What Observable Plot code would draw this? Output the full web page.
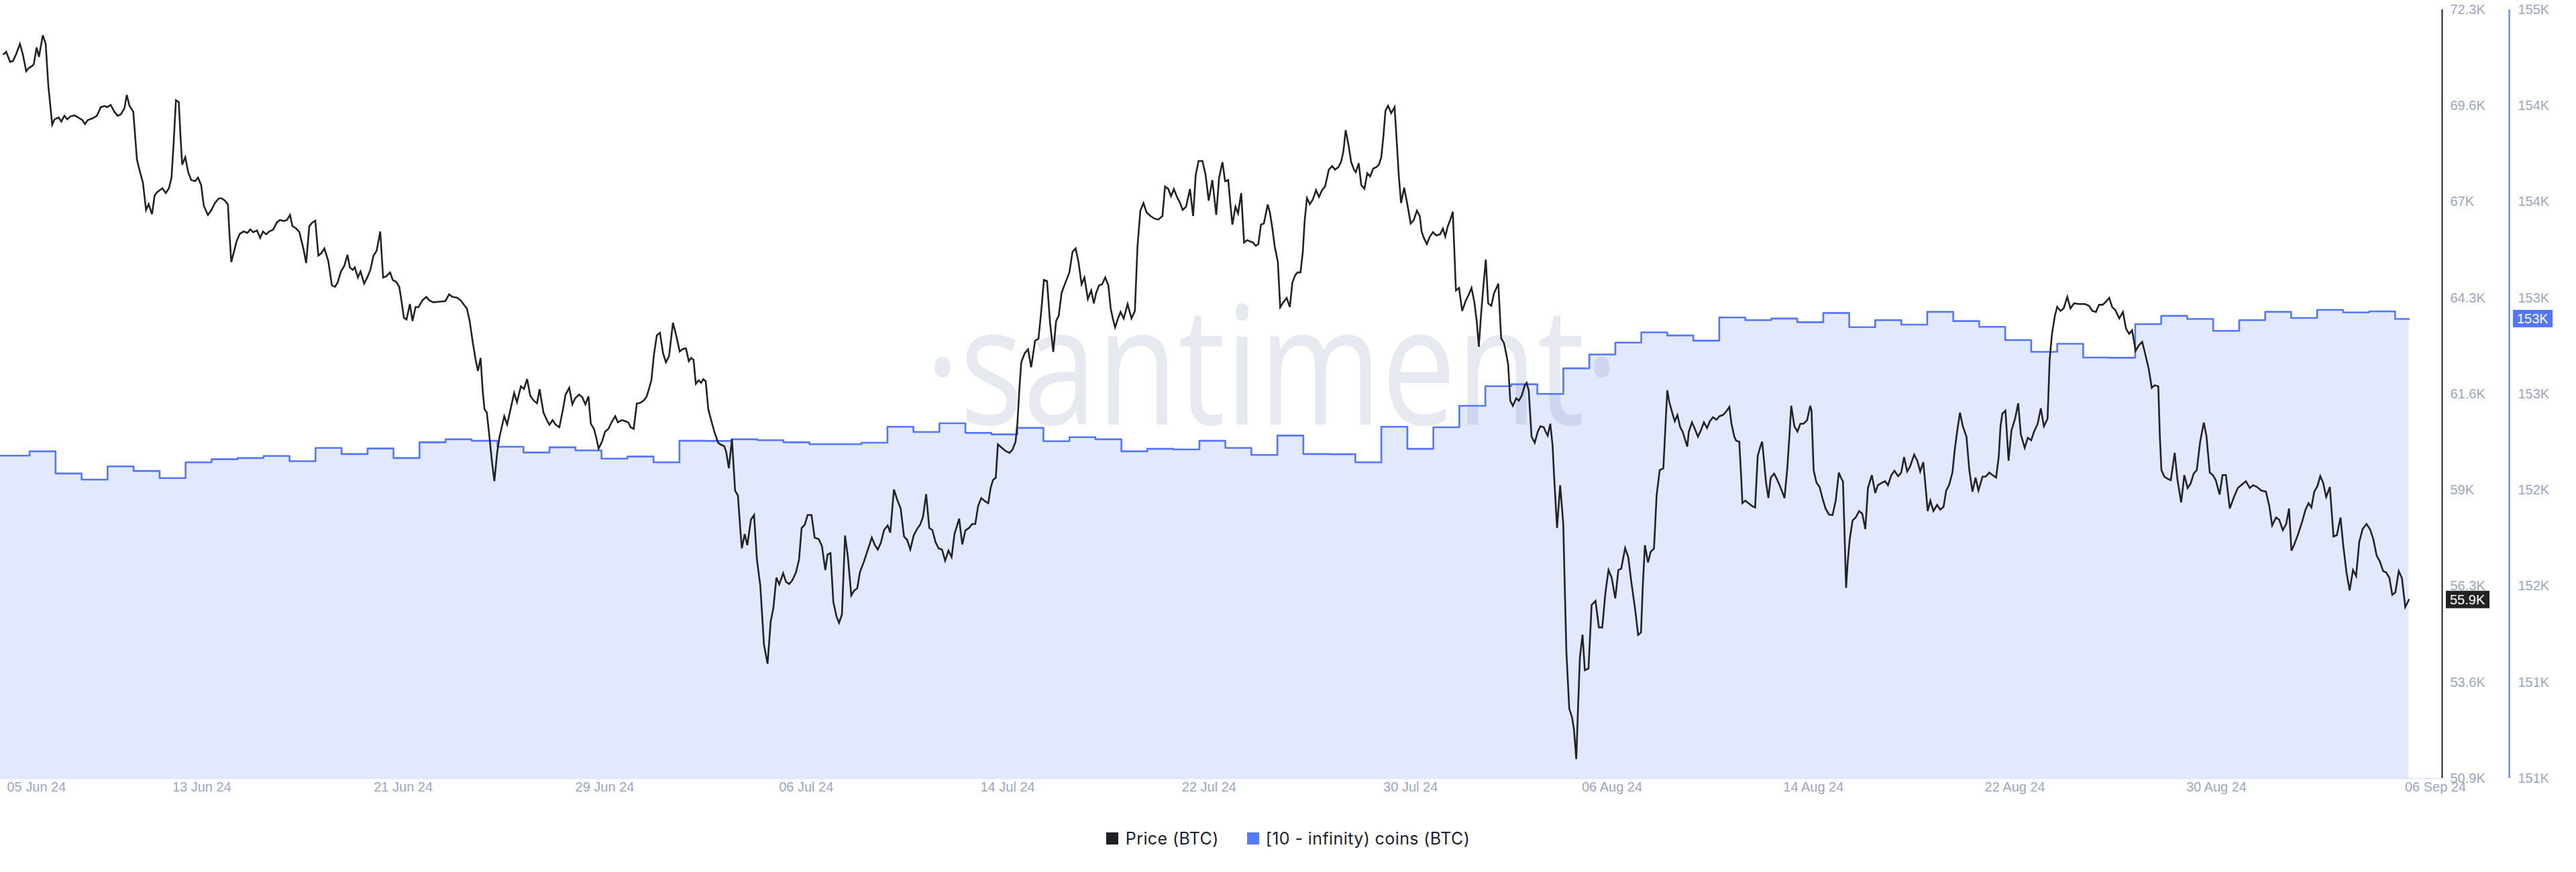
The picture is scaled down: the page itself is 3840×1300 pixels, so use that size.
<!DOCTYPE html>
<html>
<head>
<meta charset="utf-8">
<script src="https://cdn.jsdelivr.net/npm/d3@7"></script>
<script src="https://cdn.jsdelivr.net/npm/@observablehq/plot@0.6"></script>
<style>
  html, body { margin: 0; padding: 0; background: #ffffff; }
  #chart { width: 3840px; }
  .legend { height: 100px; width: 3840px; display: flex; align-items: center; justify-content: center;
            font-family: Inter, "Noto Sans", sans-serif; font-size: 25px; color: #1b1f2e; letter-spacing: 0.4px; }
  .legend .item { display: flex; align-items: center; }
  .legend .sw { width: 18px; height: 18px; display: inline-block; }
</style>
</head>
<body>
<div id="chart"></div>
<div class="legend">
  <span class="item"><span class="sw" style="background:#1f2023;margin-right:11px"></span>Price (BTC)</span>
  <span class="item" style="margin-left:42px"><span class="sw" style="background:#5779fb;margin-right:10px"></span>[10 - infinity) coins (BTC)</span>
</div>
<script>
// ---------- DATA ----------
// time is expressed in days since 05 Jun 2024 00:00 UTC
const START_UTC = Date.UTC(2024, 5, 5);
const DAY_MS = 864e5;

// BTC price: [day, price in thousand USD]
const priceSeries = [
[1.00,71.08],[1.10,71.15],[1.25,70.87],[1.36,70.89],[1.48,71.08],[1.63,71.37],[1.74,71.08],[1.87,70.61],[1.97,70.70],[2.09,70.75],[2.16,70.80],[2.27,71.27],[2.36,71.01],[2.51,71.61],[2.62,71.37],[2.72,70.22],[2.87,69.12],[2.96,69.27],[3.12,69.32],[3.22,69.21],[3.34,69.37],[3.45,69.27],[3.57,69.35],[3.72,69.38],[3.87,69.32],[4.03,69.25],[4.13,69.14],[4.24,69.25],[4.43,69.30],[4.59,69.37],[4.74,69.61],[4.89,69.64],[4.99,69.61],[5.12,69.67],[5.27,69.47],[5.39,69.37],[5.51,69.41],[5.65,69.58],[5.74,69.95],[5.84,69.65],[5.99,69.48],[6.13,68.15],[6.25,67.80],[6.36,67.51],[6.48,66.75],[6.58,66.91],[6.71,66.63],[6.81,67.15],[6.90,67.24],[7.01,67.30],[7.11,67.35],[7.24,67.22],[7.36,67.35],[7.46,67.65],[7.54,68.58],[7.63,69.80],[7.74,69.75],[7.80,68.87],[7.87,68.01],[7.99,68.22],[8.10,67.80],[8.22,67.58],[8.37,67.55],[8.48,67.65],[8.60,67.44],[8.70,66.87],[8.86,66.61],[8.98,66.73],[9.13,66.94],[9.28,67.07],[9.39,67.07],[9.51,67.01],[9.63,66.90],[9.69,66.08],[9.76,65.30],[9.86,65.58],[9.96,65.87],[10.08,66.08],[10.23,66.15],[10.38,66.11],[10.49,66.21],[10.60,66.13],[10.75,66.18],[10.87,65.97],[10.98,66.15],[11.10,66.07],[11.22,66.15],[11.37,66.20],[11.51,66.40],[11.63,66.47],[11.78,66.44],[11.90,66.47],[12.02,66.61],[12.11,66.30],[12.26,66.23],[12.38,66.13],[12.54,65.65],[12.64,65.27],[12.76,66.30],[12.88,66.40],[12.99,66.45],[13.11,65.48],[13.22,65.54],[13.34,65.68],[13.49,65.33],[13.63,64.65],[13.75,64.61],[13.85,64.73],[13.98,65.04],[14.10,65.18],[14.23,65.50],[14.32,65.15],[14.43,65.08],[14.51,65.15],[14.63,64.87],[14.73,65.04],[14.87,64.70],[14.99,64.87],[15.11,65.08],[15.23,65.48],[15.35,65.61],[15.49,66.15],[15.60,64.87],[15.72,64.90],[15.87,65.01],[15.97,64.80],[16.10,64.75],[16.22,64.61],[16.29,64.30],[16.40,63.75],[16.50,63.70],[16.63,64.13],[16.73,63.66],[16.85,64.05],[16.96,64.04],[17.11,64.23],[17.26,64.33],[17.38,64.23],[17.53,64.18],[17.84,64.20],[17.99,64.21],[18.14,64.40],[18.26,64.33],[18.44,64.31],[18.59,64.23],[18.75,64.07],[18.82,64.01],[18.93,63.66],[19.05,63.06],[19.16,62.58],[19.25,62.27],[19.35,62.63],[19.43,61.73],[19.50,61.20],[19.59,61.11],[19.70,60.37],[19.79,59.73],[19.88,59.20],[19.99,60.01],[20.08,60.44],[20.26,61.01],[20.37,60.78],[20.49,61.16],[20.64,61.66],[20.75,61.40],[20.90,61.84],[21.02,61.77],[21.14,62.04],[21.26,61.58],[21.40,61.44],[21.52,61.37],[21.62,61.76],[21.77,61.11],[21.90,60.90],[22.00,60.77],[22.12,60.90],[22.23,60.78],[22.38,60.70],[22.50,61.13],[22.62,61.61],[22.76,61.80],[22.88,61.34],[22.99,61.51],[23.14,61.61],[23.26,61.54],[23.38,61.34],[23.50,61.56],[23.59,60.80],[23.71,60.66],[23.80,60.41],[23.89,60.11],[24.02,60.30],[24.14,60.58],[24.27,60.66],[24.39,60.84],[24.53,61.01],
[24.63,60.84],[24.78,60.90],[24.93,60.87],[25.04,60.83],[25.12,60.70],[25.24,60.66],[25.36,61.36],[25.49,61.38],[25.62,61.44],[25.74,61.56],[25.84,61.80],[25.92,62.01],[26.02,62.73],[26.13,63.26],[26.25,63.33],[26.37,62.76],[26.48,62.51],[26.60,62.68],[26.75,63.61],[26.87,63.27],[27.01,62.81],[27.13,62.88],[27.25,62.90],[27.36,62.54],[27.45,62.63],[27.54,62.58],[27.63,61.91],[27.74,62.01],[27.83,61.94],[27.92,62.04],[28.01,61.98],[28.11,61.20],[28.22,60.90],[28.34,60.58],[28.49,60.27],[28.61,60.21],[28.72,60.18],[28.80,60.01],[28.90,59.56],[29.02,60.37],[29.14,58.94],[29.25,58.80],[29.34,57.87],[29.40,57.33],[29.51,57.73],[29.61,57.42],[29.75,58.13],[29.87,58.26],[29.98,57.02],[30.11,56.30],[30.25,54.66],[30.39,54.12],[30.51,55.30],[30.61,55.66],[30.73,56.52],[30.84,56.33],[30.99,56.64],[31.10,56.40],[31.22,56.34],[31.34,56.44],[31.48,56.66],[31.60,57.02],[31.70,57.90],[31.82,57.99],[31.93,58.26],[32.08,58.26],[32.20,57.63],[32.36,57.59],[32.48,57.40],[32.61,56.73],[32.70,57.16],[32.81,57.20],[32.92,55.84],[33.04,55.44],[33.14,55.26],[33.25,55.49],[33.37,57.69],[33.48,57.09],[33.61,56.02],[33.72,56.16],[33.84,56.22],[33.94,56.66],[34.10,56.97],[34.25,57.30],[34.40,57.63],[34.52,57.42],[34.63,57.30],[34.75,57.49],[34.87,57.84],[35.01,57.97],[35.11,57.77],[35.25,58.97],[35.37,58.70],[35.51,58.44],[35.64,57.66],[35.76,57.57],[35.88,57.30],[36.01,57.69],[36.14,57.87],[36.26,57.99],[36.37,58.21],[36.49,58.84],[36.61,57.90],[36.73,57.84],[36.85,57.51],[36.97,57.33],[37.10,57.30],[37.22,56.99],[37.35,57.27],[37.47,57.09],[37.58,57.73],[37.76,58.16],[37.88,57.44],[38.00,57.83],[38.14,57.90],[38.26,58.01],[38.38,58.01],[38.49,58.51],[38.61,58.73],[38.76,58.64],[38.88,58.59],[38.97,59.01],[39.06,59.23],[39.17,59.30],[39.25,60.23],[39.40,60.13],[39.55,60.04],[39.70,59.99],[39.82,60.09],[39.93,60.30],[40.00,60.80],[40.08,61.80],[40.15,62.51],[40.28,62.76],[40.41,62.87],[40.53,62.37],[40.68,63.11],[40.81,63.16],[40.91,63.87],[41.02,64.80],[41.14,64.77],[41.26,63.58],[41.38,62.80],[41.49,63.66],[41.59,63.80],[41.70,64.44],[41.85,64.73],[42.00,65.01],[42.12,65.58],[42.24,65.68],[42.35,65.30],[42.47,64.68],[42.58,64.87],[42.71,64.27],[42.84,64.51],[42.94,64.15],[43.03,64.44],[43.14,64.65],[43.26,64.68],[43.38,64.87],[43.50,64.65],[43.59,64.01],[43.67,63.73],[43.76,63.48],[43.87,63.73],[43.97,63.91],[44.09,63.73],[44.24,64.13],[44.39,63.73],[44.52,63.94],[44.62,65.73],[44.73,66.73],[44.85,66.94],[44.97,66.68],[45.12,66.58],[45.27,66.51],[45.42,66.48],[45.58,66.58],[45.68,67.40],[45.80,67.34],[45.91,67.13],[46.02,67.33],[46.14,67.11],[46.26,66.94],[46.36,66.75],[46.49,66.84],[46.64,67.33],[46.76,66.58],[46.86,67.72],[46.97,68.11],[47.12,68.11],[47.24,67.72],[47.36,67.01],[47.50,67.58],[47.65,66.61],[47.76,67.65],
[47.89,68.08],[47.99,67.55],[48.11,67.58],[48.19,66.94],[48.27,66.34],[48.39,66.84],[48.49,66.65],[48.61,67.22],[48.72,65.84],[48.84,65.91],[48.96,65.87],[49.07,65.84],[49.17,65.75],[49.27,65.80],[49.37,66.34],[49.48,66.37],[49.63,66.90],[49.72,66.65],[49.81,66.23],[49.90,65.73],[50.02,65.30],[50.11,64.04],[50.23,64.18],[50.36,64.30],[50.48,64.05],[50.58,64.73],[50.69,64.94],[50.78,65.01],[50.89,65.01],[50.98,65.58],[51.05,66.44],[51.14,67.08],[51.25,66.91],[51.37,67.05],[51.49,67.30],[51.60,67.11],[51.72,67.30],[51.84,67.41],[51.98,67.87],[52.11,67.97],[52.22,67.87],[52.35,67.94],[52.45,68.08],[52.54,68.37],[52.63,68.97],[52.75,68.51],[52.84,68.08],[52.95,67.87],[53.02,67.80],[53.13,68.05],[53.23,67.44],[53.35,67.34],[53.46,67.77],[53.57,67.68],[53.69,67.90],[53.81,67.94],[53.91,68.01],[54.00,68.22],[54.08,68.80],[54.16,69.51],[54.26,69.65],[54.38,69.44],[54.51,69.61],[54.60,68.58],[54.67,67.72],[54.76,66.94],[54.88,67.37],[55.01,66.87],[55.13,66.37],[55.25,66.47],[55.37,66.73],[55.48,66.58],[55.55,66.15],[55.63,65.98],[55.75,65.80],[55.87,66.01],[55.99,66.13],[56.11,66.04],[56.26,66.07],[56.37,66.23],[56.46,66.01],[56.56,66.30],[56.67,66.51],[56.75,66.70],[56.87,64.51],[56.99,64.58],[57.11,63.94],[57.25,64.23],[57.37,64.40],[57.47,64.58],[57.58,64.18],[57.67,63.66],[57.75,62.94],[57.84,63.87],[57.93,64.65],[58.02,65.37],[58.11,64.15],[58.23,64.08],[58.34,64.44],[58.43,64.58],[58.50,64.70],[58.61,63.18],[58.72,63.04],[58.81,62.73],[58.88,62.44],[58.96,61.44],[59.06,61.30],[59.19,61.51],[59.29,61.44],[59.40,61.58],[59.52,61.87],[59.59,61.94],[59.67,61.73],[59.78,60.44],[59.90,60.27],[60.02,60.58],[60.12,60.73],[60.25,60.70],[60.32,60.58],[60.40,60.47],[60.50,60.80],[60.59,60.18],[60.65,59.30],[60.76,57.90],[60.88,59.09],[61.00,58.01],[61.06,56.16],[61.12,54.44],[61.23,52.87],[61.34,52.62],[61.41,52.30],[61.50,51.47],[61.56,52.73],[61.64,54.30],[61.74,54.93],[61.83,53.94],[61.97,53.99],[62.09,55.76],[62.24,55.87],[62.37,55.13],[62.50,55.13],[62.62,56.09],[62.74,56.73],[62.86,56.52],[63.00,55.94],[63.12,56.73],[63.23,56.77],[63.38,57.34],[63.50,57.09],[63.61,56.44],[63.76,55.66],[63.88,54.92],[63.99,54.99],[64.06,56.30],[64.14,57.42],[64.26,56.94],[64.36,57.23],[64.49,57.33],[64.59,58.80],[64.71,59.51],[64.85,59.56],[64.92,60.58],[65.00,61.73],[65.08,61.40],[65.20,61.08],[65.29,60.87],[65.39,61.04],[65.50,60.70],[65.59,60.58],[65.68,60.37],[65.77,60.16],[65.83,60.58],[65.95,60.84],[66.06,60.66],[66.18,60.44],[66.29,60.61],[66.41,60.84],[66.53,60.68],[66.64,60.87],[66.76,60.98],[66.89,60.91],[67.01,61.01],[67.14,61.04],[67.26,61.13],[67.39,61.27],[67.47,60.80],[67.58,60.44],[67.65,60.33],[67.77,60.30],[67.85,59.23],[67.89,58.59],[68.00,58.66],[68.12,58.59],[68.26,58.51],[68.38,58.47],[68.48,59.91],[68.58,60.16],[68.65,60.30],[68.71,59.87],[68.80,59.16],[68.89,58.73],[68.98,59.30],[69.11,59.41],[69.21,59.27],[69.32,59.09],[69.44,58.87],[69.51,58.73],[69.62,59.58],[69.71,60.58],[69.77,61.30],[69.89,60.73],[70.01,60.58],[70.12,60.80],[70.24,60.80],[70.38,60.90],[70.50,61.30],
[70.55,61.16],[70.63,59.51],[70.74,59.16],[70.86,59.04],[70.97,58.73],[71.09,58.44],[71.22,58.27],[71.36,58.26],[71.48,58.66],[71.60,59.44],[71.68,59.30],[71.76,59.19],[71.82,57.73],[71.88,56.23],[71.94,56.94],[72.02,57.59],[72.13,58.11],[72.25,58.19],[72.38,58.37],[72.50,58.30],[72.62,57.87],[72.72,59.01],[72.87,59.37],[73.00,58.87],[73.10,59.09],[73.26,59.16],[73.38,59.20],[73.49,59.09],[73.62,59.37],[73.74,59.49],[73.88,59.34],[74.00,59.44],[74.11,59.87],[74.23,59.47],[74.34,59.61],[74.50,59.94],[74.62,59.77],[74.73,59.47],[74.85,59.73],[74.95,58.94],[75.02,58.37],[75.12,58.66],[75.24,58.37],[75.38,58.54],[75.50,58.41],[75.63,58.49],[75.73,58.94],[75.84,59.09],[75.97,59.44],[76.06,60.08],[76.15,60.58],[76.26,61.11],[76.37,60.73],[76.51,60.44],[76.62,59.51],[76.74,58.91],[76.86,59.30],[76.97,58.94],[77.13,59.33],[77.25,59.33],[77.39,59.44],[77.51,59.37],[77.65,59.30],[77.75,59.87],[77.82,60.73],[77.89,61.08],[78.01,61.16],[78.13,59.77],[78.24,60.61],[78.38,60.94],[78.50,61.37],[78.60,60.51],[78.75,60.13],[78.87,60.41],[79.00,60.34],[79.11,60.58],[79.25,60.80],[79.37,61.23],[79.49,60.73],[79.63,60.94],[79.71,62.58],[79.80,63.30],[79.91,63.80],[80.00,64.05],[80.13,63.94],[80.25,64.01],[80.39,64.33],[80.51,64.01],[80.65,64.15],[80.84,64.13],[81.07,64.13],[81.23,64.08],[81.35,63.94],[81.49,63.91],[81.61,64.11],[81.75,64.11],[81.88,64.20],[82.00,64.30],[82.12,64.04],[82.23,63.97],[82.39,63.73],[82.53,63.91],[82.65,63.44],[82.77,63.30],[82.88,63.40],[83.02,62.83],[83.14,62.98],[83.27,63.08],[83.39,62.73],[83.52,62.33],[83.64,61.80],[83.75,61.87],[83.89,61.84],[83.95,60.44],[84.01,59.51],[84.12,59.33],[84.24,59.27],[84.37,59.23],[84.52,59.99],[84.63,59.23],[84.77,58.61],[84.89,59.37],[85.02,59.01],[85.13,59.13],[85.25,59.41],[85.37,59.51],[85.50,60.30],[85.64,60.83],[85.74,60.47],[85.87,59.44],[85.99,59.37],[86.10,59.23],[86.25,58.83],[86.36,59.37],[86.49,59.37],[86.64,58.44],[86.80,58.76],[86.95,59.01],[87.11,59.11],[87.26,59.20],[87.41,59.01],[87.54,59.09],[87.69,59.04],[87.85,58.94],[88.03,58.91],[88.16,58.51],[88.27,57.97],[88.42,58.19],[88.54,58.13],[88.68,57.84],[88.81,58.01],[88.92,58.44],[89.01,57.27],[89.12,57.44],[89.27,57.73],[89.43,58.09],[89.55,58.40],[89.67,58.59],[89.78,58.47],[89.89,58.91],[90.01,59.06],[90.12,59.34],[90.23,59.16],[90.35,58.76],[90.49,59.04],[90.63,57.66],[90.76,57.70],[90.90,58.19],[91.00,57.44],[91.13,56.66],[91.25,56.16],[91.38,56.73],[91.50,56.56],[91.62,57.51],[91.75,57.87],[91.90,58.01],[92.03,57.87],[92.16,57.59],[92.29,57.13],[92.41,56.97],[92.54,56.70],[92.66,56.66],[92.78,56.51],[92.89,56.04],[93.01,56.11],[93.14,56.70],[93.26,56.51],[93.39,55.70],[93.53,55.90]
];

// [10 - infinity) coins (BTC), daily value in thousands, day 0 = 05 Jun 2024
const coinsDailyK = [
152.430,152.430,152.452,152.337,152.305,152.374,152.350,152.313,152.395,152.411,
152.417,152.428,152.401,152.470,152.438,152.467,152.417,152.499,152.515,152.507,
152.476,152.446,152.473,152.457,152.414,152.425,152.395,152.507,152.506,152.515,
152.510,152.499,152.489,152.489,152.497,152.580,152.553,152.598,152.548,152.540,
152.574,152.505,152.526,152.515,152.452,152.465,152.462,152.507,152.470,152.433,
152.534,152.438,152.437,152.395,152.580,152.465,152.577,152.689,152.791,152.801,
152.751,152.884,152.956,153.018,153.071,153.055,153.028,153.149,153.135,153.143,
153.124,153.172,153.098,153.135,153.111,153.178,153.130,153.100,153.031,152.970,
153.012,152.940,152.939,153.114,153.157,153.141,153.079,153.135,153.178,153.146,
153.188,153.175,153.180,153.141
];

// axis tick labels
const xTickLabels = ["05 Jun 24","13 Jun 24","21 Jun 24","29 Jun 24","06 Jul 24","14 Jul 24","22 Jul 24","30 Jul 24","06 Aug 24","14 Aug 24","22 Aug 24","30 Aug 24","06 Sep 24"];
const priceTickLabels = ["50.9K","53.6K","56.3K","59K","61.6K","64.3K","67K","69.6K","72.3K"];
const coinTickLabels = ["151K","151K","152K","152K","153K","153K","154K","154K","155K"];

// scale settings
const priceDomainK = [50.93, 72.32];
const coinDomainK = [150.75, 154.75];
const viewDays = [0.875, 94.81];
const xTickStepDays = 7.75;

// ---------- BUILD ----------
const toDate = d => new Date(START_UTC + d * DAY_MS);
const priceData = priceSeries.map(([d, p]) => ({date: toDate(d), price: p}));
const lastDay = priceSeries[priceSeries.length - 1][0];
const lastPrice = priceSeries[priceSeries.length - 1][1];
const lastCoins = coinsDailyK[coinsDailyK.length - 1];
const coinData = coinsDailyK.map((v, k) => ({date: toDate(k), v}));
coinData.push({date: toDate(lastDay), v: lastCoins});
const coinToY = d3.scaleLinear(coinDomainK, priceDomainK);

const nP = priceTickLabels.length;
const priceTicks = priceTickLabels.map((label, i) => ({label, y: priceDomainK[0] + i * (priceDomainK[1] - priceDomainK[0]) / (nP - 1)}));
const nC = coinTickLabels.length;
const coinTicks = coinTickLabels.map((label, i) => ({label, y: coinToY(coinDomainK[0] + i * (coinDomainK[1] - coinDomainK[0]) / (nC - 1))}));
const xTicks = xTickLabels.map((label, i) => ({label, date: i === xTickLabels.length - 1 ? toDate(viewDays[1]) : toDate(viewDays[0] + i * xTickStepDays)}));

const BLUE = "#5476fb", BLACK = "#222224", TICK = "#9aa5c3", FILL = "#e3e9fc";
const tickFont = {fontFamily: "Liberation Sans, Arial, sans-serif", fontSize: 20, fill: TICK};

const watermark = (index, scales, values, dims) => {
  const t = d3.create("svg:text")
    .attr("x", 1379).attr("y", 633)
    .attr("text-anchor", "start")
    .attr("font-family", "Open Sans, sans-serif")
    .attr("font-size", 245)
    .attr("fill", "#3b4a8c").attr("fill-opacity", 0.12)
    .attr("textLength", 1035).attr("lengthAdjust", "spacingAndGlyphs")
    .text("\u00B7santiment\u00B7");
  return t.node();
};

const fmtK = v => d3.format(".3~s")(v * 1000).replace("k", "K");
const valueTags = (index, scales, values, dims) => {
  const right = dims.width - dims.marginRight;
  const g = d3.create("svg:g").attr("font-family", "Liberation Sans, Arial, sans-serif").attr("font-size", 20).attr("text-anchor", "start");
  const tags = [
    {x: right + 6, w: 65, y: scales.y(lastPrice), bg: BLACK, text: fmtK(lastPrice)},
    {x: right + 106, w: 59, y: scales.y(coinToY(lastCoins)), bg: BLUE, text: fmtK(lastCoins)}
  ];
  for (const t of tags) {
    g.append("rect").attr("x", t.x).attr("y", t.y - 13).attr("width", t.w).attr("height", 26).attr("fill", t.bg);
    g.append("text").attr("x", t.x + 6).attr("y", t.y).attr("dy", "0.36em").attr("fill", "#fff").text(t.text);
  }
  return g.node();
};

const plot = Plot.plot({
  width: 3840, height: 1200,
  marginLeft: 0, marginRight: 200, marginTop: 14, marginBottom: 40,
  x: {type: "utc", domain: [toDate(viewDays[0]), toDate(viewDays[1])], axis: null},
  y: {domain: priceDomainK, axis: null},
  style: {background: "#ffffff", overflow: "visible"},
  marks: [
    Plot.areaY(coinData, {x: "date", y1: priceDomainK[0], y2: d => coinToY(d.v), curve: "step-after", fill: FILL, clip: true}),
    watermark,
    Plot.ruleY([priceDomainK[0]], {stroke: "#dde3f5", strokeWidth: 1.5}),
    Plot.lineY(coinData, {x: "date", y: d => coinToY(d.v), curve: "step-after", stroke: BLUE, strokeWidth: 2.6, clip: true}),
    Plot.line(priceData, {x: "date", y: "price", stroke: BLACK, strokeWidth: 2.6, strokeLinejoin: "miter", strokeMiterlimit: 4}),
    Plot.ruleX([toDate(viewDays[1])], {y1: priceDomainK[0], y2: priceDomainK[1], stroke: "#1d1d1f", strokeWidth: 2}),
    Plot.ruleX([toDate(viewDays[1])], {y1: priceDomainK[0], y2: priceDomainK[1], dx: 100, stroke: BLUE, strokeWidth: 2}),
    Plot.text(priceTicks, {frameAnchor: "right", y: "y", text: "label", dx: 12, textAnchor: "start", ...tickFont}),
    Plot.text(coinTicks, {frameAnchor: "right", y: "y", text: "label", dx: 113, textAnchor: "start", ...tickFont}),
    Plot.text(xTicks.slice(0, 1), {x: "date", frameAnchor: "bottom", dy: 19, dx: 10, text: "label", textAnchor: "start", ...tickFont}),
    Plot.text(xTicks.slice(1, -1), {x: "date", frameAnchor: "bottom", dy: 19, text: "label", textAnchor: "middle", ...tickFont}),
    Plot.text(xTicks.slice(-1), {x: "date", frameAnchor: "bottom", dy: 19, dx: -10, text: "label", textAnchor: "middle", ...tickFont}),
    valueTags
  ]
});
document.getElementById("chart").appendChild(plot);
</script>
</body>
</html>
